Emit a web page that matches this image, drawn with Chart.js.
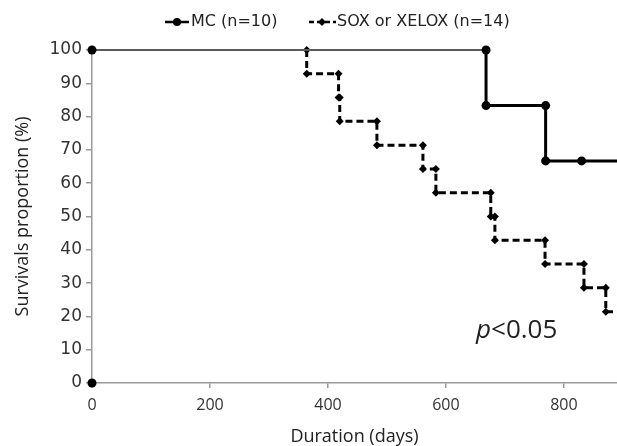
<!DOCTYPE html>
<html>
<head>
<meta charset="utf-8">
<title>Survival</title>
<script src="https://cdn.jsdelivr.net/npm/chart.js@4.4.0/dist/chart.umd.min.js"></script>
<style>
    html, body { margin: 0; padding: 0; background: #fff; }
</style>
</head>
<body>
<canvas id="survivalChart" width="617" height="446"></canvas>
<script>
// Kaplan-Meier steps (days, % surviving)
const mcDays = [0, 668, 668, 769, 769, 830, 890];
const mcSurvival = [100, 100, 83.3, 83.3, 66.7, 66.7, 66.7];

const soxDays = [0, 364, 364, 418, 418, 420, 420, 483, 483, 561, 561, 583, 583, 676, 676, 683, 683, 768, 768, 834, 834, 871, 871, 890];
const soxSurvival = [100, 100, 92.9, 92.9, 85.7, 85.7, 78.6, 78.6, 71.4, 71.4, 64.3, 64.3, 57.1, 57.1, 50, 50, 42.9, 42.9, 35.7, 35.7, 28.6, 28.6, 21.4, 21.4];

// stray marker at the origin
const originDays = [0];
const originSurvival = [0];

const seriesLabels = ['MC (n=10)', 'SOX or XELOX (n=14)'];
const xTicks = [0, 200, 400, 600, 800];
const xMax = 890;
const pValueText = '<0.05';

function toPoints(xs, ys) {
    return xs.map((x, i) => ({ x: x, y: ys[i] }));
}

// top segment at 100% is drawn lighter in the original
const topSegment = (ctx) =>
    (ctx.p0.parsed.y === 100 && ctx.p1.parsed.y === 100) ? '#5a5a5a' : undefined;
const hideEndPoint = (ctx) => (ctx.raw && ctx.raw.x >= xMax) ? 0 : undefined;

//Legend drawn by hand (line + marker like the original)
const stepLegend = {
    id: 'stepLegend',
    afterDraw(chart) {
        const ctx = chart.ctx;
        const y = 22;
        ctx.save();
        ctx.strokeStyle = '#000';
        ctx.fillStyle = '#000';
        ctx.lineWidth = 2.5;

        ctx.beginPath();
        ctx.moveTo(165, y);
        ctx.lineTo(189, y);
        ctx.stroke();
        ctx.beginPath();
        ctx.arc(177, y, 4, 0, Math.PI * 2);
        ctx.fill();

        ctx.setLineDash([5, 3]);
        ctx.beginPath();
        ctx.moveTo(309, y);
        ctx.lineTo(336, y);
        ctx.stroke();
        ctx.setLineDash([]);
        ctx.beginPath();
        ctx.moveTo(322, y - 4);
        ctx.lineTo(326, y);
        ctx.lineTo(322, y + 4);
        ctx.lineTo(318, y);
        ctx.closePath();
        ctx.fill();

        ctx.font = '16px "DejaVu Sans"';
        ctx.fillStyle = '#222';
        ctx.textBaseline = 'middle';
        ctx.fillText(seriesLabels[0], 191, y);
        ctx.fillText(seriesLabels[1], 337, y);

        // p value
        ctx.font = 'italic 26px "Open Sans"';
        ctx.fillText('p', 476, 331);
        const w = ctx.measureText('p').width;
        ctx.font = '26px "Open Sans"';
        ctx.fillText(pValueText, 476 + w, 331);
        ctx.restore();
    }
};

const survivalChart = new Chart(document.getElementById('survivalChart'), {
    type: 'line',
    data: {
        datasets: [
            {
                label: seriesLabels[0],
                data: toPoints(mcDays, mcSurvival),
                borderColor: '#000',
                backgroundColor: '#000',
                borderWidth: 3,
                pointStyle: 'circle',
                pointRadius: (ctx) => hideEndPoint(ctx) ?? 4.5,
                pointBackgroundColor: '#000',
                pointBorderWidth: 0,
                tension: 0,
                clip: { left: 8, top: 8, right: 0, bottom: 8 },
                segment: {
                    borderColor: topSegment,
                    borderWidth: (ctx) => topSegment(ctx) ? 2 : undefined
                }
            },
            {
                label: seriesLabels[1],
                data: toPoints(soxDays, soxSurvival),
                borderColor: '#000',
                backgroundColor: '#000',
                borderWidth: 3,
                borderDash: [7, 4],
                pointStyle: 'rectRot',
                pointRadius: (ctx) => hideEndPoint(ctx) ?? 4,
                pointBackgroundColor: '#000',
                pointBorderWidth: 0,
                tension: 0,
                clip: { left: 8, top: 8, right: 0, bottom: 8 },
                segment: {
                    borderColor: topSegment,
                    borderWidth: (ctx) => topSegment(ctx) ? 2 : undefined
                }
            },
            {
                label: 'origin',
                data: toPoints(originDays, originSurvival),
                showLine: false,
                pointStyle: 'circle',
                pointRadius: 4.5,
                pointBackgroundColor: '#000',
                pointBorderWidth: 0,
                clip: { left: 8, top: 8, right: 0, bottom: 8 }
            }
        ]
    },
    options: {
        responsive: false,
        animation: false,
        events: [],
        layout: {
            autoPadding: false,
            padding: { top: 50, right: 0, left: 0, bottom: 0 }
        },
        plugins: {
            legend: { display: false },
            tooltip: { enabled: false }
        },
        scales: {
            x: {
                type: 'linear',
                min: 0,
                max: xMax,
                afterBuildTicks: (scale) => {
                    scale.ticks = xTicks.map(v => ({ value: v }));
                },
                afterFit: (scale) => { scale.height = 63; },
                ticks: {
                    color: '#333',
                    padding: 8,
                    maxRotation: 0,
                    font: { family: 'Open Sans', size: 16 }
                },
                grid: { drawOnChartArea: false, tickLength: 5, color: '#9a9a9a', lineWidth: 1.5 },
                border: { color: '#9a9a9a', width: 1.5 },
                title: {
                    display: true,
                    text: 'Duration (days)',
                    color: '#222',
                    padding: { top: 0, bottom: 0 },
                    font: { family: 'Open Sans', size: 18, lineHeight: 1 }
                }
            },
            y: {
                min: 0,
                max: 100,
                afterFit: (scale) => { scale.width = 92; },
                ticks: {
                    stepSize: 10,
                    color: '#333',
                    padding: 4,
                    font: { family: 'DejaVu Sans', size: 17 }
                },
                grid: { drawOnChartArea: false, tickLength: 6, color: '#9a9a9a', lineWidth: 1.5 },
                border: { color: '#9a9a9a', width: 1.5 },
                title: {
                    display: true,
                    text: 'Survivals proportion (%)',
                    color: '#222',
                    padding: { top: 14, bottom: 0 },
                    font: { family: 'Open Sans', size: 18, lineHeight: 1 }
                }
            }
        }
    },
    plugins: [stepLegend]
});
</script>
</body>
</html>
